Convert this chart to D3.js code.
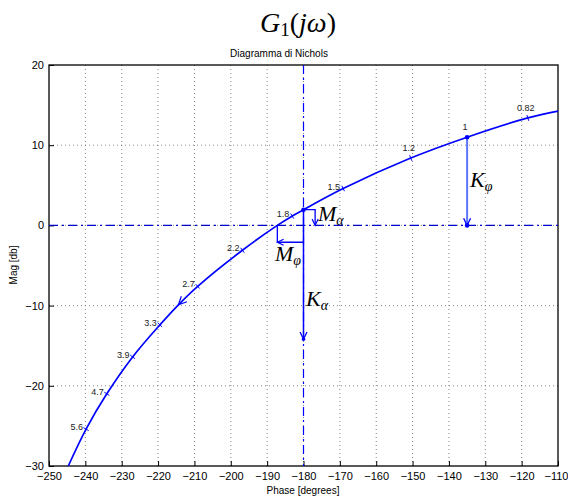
<!DOCTYPE html>
<html><head><meta charset="utf-8">
<script src="https://cdn.jsdelivr.net/npm/d3@7"></script>
<style>body{margin:0;background:#fff}</style>
</head><body>
<svg id="c" width="568" height="499"></svg>
<script>
// ---- data ----
const curvePhase = [-244.7, -239.8, -234.1, -227.0, -219.5, -214.4, -209.1, -196.8, -187.2, -183.1, -180.0, -169.1, -150.5, -135.0, -118.3, -110.0];
const curveMag   = [-30.0, -25.4, -21.0, -16.4, -12.4, -9.9, -7.6, -3.1, 0.0, 1.16, 1.96, 4.6, 8.4, 11.0, 13.4, 14.25];
const freqLabels = ["5.6", "4.7", "3.9", "3.3", "2.7", "2.2", "1.8", "1.5", "1.2", "1", "0.82"];
const freqPhase  = [-239.8, -234.1, -227.0, -219.5, -209.1, -196.8, -183.1, -169.1, -150.5, -135.0, -118.3];
const freqMag    = [-25.4, -21.0, -16.4, -12.4, -7.6, -3.1, 1.16, 4.6, 8.4, 11.0, 13.4];
const xTicks = [-250, -240, -230, -220, -210, -200, -190, -180, -170, -160, -150, -140, -130, -120, -110];
const yTicks = [-30, -20, -10, 0, 10, 20];
// annotation values
const critPhase = -180, critMag = 1.96;     // curve point at -180 deg
const kAlphaEnd = -14.2;                    // K_alpha arrow tip (dB)
const mAlphaPhase = -176.8;                 // M_alpha bracket phase
const crossPhase = -187.2;                  // 0 dB crossing phase
const mPhiMag = -2.1;                       // M_phi bracket level
const kPhiPhase = -135.0, kPhiMag = 11.0;   // K_phi start
const dirArrowPhase = -214.4, dirArrowMag = -9.9;

const svg = d3.select("#c");
const x = d3.scaleLinear().domain([-250, -110]).range([49, 558]);
const y = d3.scaleLinear().domain([-30, 20]).range([466, 65]);
const blue = "#0000ff";
const fmt = d => d < 0 ? "\u2212" + Math.abs(d) : String(d);

// title
const t = svg.append("text").attr("x", 298).attr("y", 32).attr("text-anchor", "middle")
  .attr("font-family", "Liberation Serif, DejaVu Serif, serif").attr("font-size", 28);
t.append("tspan").attr("font-style", "italic").text("G");
t.append("tspan").attr("font-size", 19).attr("dy", 4).text("1");
t.append("tspan").attr("dy", -4).text("(");
t.append("tspan").attr("font-style", "italic").text("j\u03c9");
t.append("tspan").text(")");

svg.append("text").attr("x", 279).attr("y", 57).attr("text-anchor", "middle")
  .attr("font-family", "Liberation Sans, Arial, sans-serif").attr("font-size", 10).text("Diagramma di Nichols");

// grid
const grid = svg.append("g").attr("stroke", "#666").attr("stroke-width", 0.8).attr("stroke-dasharray", "1,3");
xTicks.slice(1, -1).forEach(v => grid.append("line").attr("x1", x(v)).attr("x2", x(v)).attr("y1", y(20)).attr("y2", y(-30)));
yTicks.slice(1, -1).forEach(v => grid.append("line").attr("x1", x(-250)).attr("x2", x(-110)).attr("y1", y(v)).attr("y2", y(v)));

// axes
const xAxis = d3.axisBottom(x).tickValues(xTicks).tickFormat(fmt).tickSizeInner(-5).tickSizeOuter(0).tickPadding(6);
const yAxis = d3.axisLeft(y).tickValues(yTicks).tickFormat(fmt).tickSizeInner(-5).tickSizeOuter(0).tickPadding(5);
const gx = svg.append("g").attr("transform", `translate(0,${y(-30)})`).call(xAxis);
const gy = svg.append("g").attr("transform", `translate(${x(-250)},0)`).call(yAxis);
[gx, gy].forEach(g => {
  g.selectAll("text").attr("font-family", "Liberation Sans, Arial, sans-serif").attr("font-size", 11).attr("fill", "#000");
  g.select(".domain").remove();
  g.selectAll("line").attr("stroke", "#000");
});
gx.selectAll(".tick text").filter(d => d === -110).attr("text-anchor", "end").attr("dx", 10);
svg.append("rect").attr("x", x(-250)).attr("y", y(20)).attr("width", x(-110) - x(-250)).attr("height", y(-30) - y(20))
  .attr("fill", "none").attr("stroke", "#000").attr("stroke-width", 1.3);
svg.append("text").attr("x", 303).attr("y", 494).attr("text-anchor", "middle")
  .attr("font-family", "Liberation Sans, Arial, sans-serif").attr("font-size", 10).text("Phase [degrees]");
svg.append("text").attr("transform", "translate(17,265) rotate(-90)").attr("text-anchor", "middle")
  .attr("font-family", "Liberation Sans, Arial, sans-serif").attr("font-size", 10).text("Mag [db]");

const plot = svg.append("g");
// dash-dot reference lines
plot.append("line").attr("x1", x(-250)).attr("x2", x(-110)).attr("y1", y(0)).attr("y2", y(0))
  .attr("stroke", "#0000cc").attr("stroke-width", 1.2).attr("stroke-dasharray", "9,4,2,4");
plot.append("line").attr("x1", x(-180)).attr("x2", x(-180)).attr("y1", y(20)).attr("y2", y(-30))
  .attr("stroke", "#0000ff").attr("stroke-width", 1.2).attr("stroke-dasharray", "9,4,2,4");

// curve
const pts = curvePhase.map((p, i) => [x(p), y(curveMag[i])]);
plot.append("path").attr("d", d3.line().curve(d3.curveCatmullRom.alpha(0.5))(pts))
  .attr("fill", "none").attr("stroke", blue).attr("stroke-width", 1.7);

// frequency markers and labels
const lab = plot.append("g").attr("font-family", "Liberation Sans, Arial, sans-serif").attr("font-size", 9).attr("fill", "#222");
freqLabels.forEach((l, i) => {
  const px = x(freqPhase[i]), py = y(freqMag[i]);
  const j = Math.min(i + 1, freqLabels.length - 1), k = Math.max(i - 1, 0);
  let dx = x(freqPhase[j]) - x(freqPhase[k]), dy = y(freqMag[j]) - y(freqMag[k]);
  const n = Math.hypot(dx, dy); dx /= n; dy /= n;
  if (l !== "1") {
    plot.append("line").attr("x1", px - dy * 3).attr("y1", py + dx * 3).attr("x2", px + dy * 3).attr("y2", py - dx * 3)
      .attr("stroke", blue).attr("stroke-width", 1);
  }
  if (freqPhase[i] > -155) {
    lab.append("text").attr("x", px - 2).attr("y", py - 7).attr("text-anchor", "middle").text(l);
  } else {
    lab.append("text").attr("x", px - 3).attr("y", py + 1).attr("text-anchor", "end").text(l);
  }
});

// open arrowhead helper
function arrowHead(g, tx, ty, ux, uy, len, color, w) {
  const n = Math.hypot(ux, uy); ux /= n; uy /= n;
  const a = Math.PI / 7;
  const make = s => {
    const c = Math.cos(s * a), sn = Math.sin(s * a);
    const bx = -(ux * c - uy * sn), by = -(ux * sn + uy * c);
    return [tx + bx * len, ty + by * len];
  };
  const p1 = make(1), p2 = make(-1);
  g.append("path").attr("d", `M${p1[0]},${p1[1]}L${tx},${ty}L${p2[0]},${p2[1]}`)
    .attr("fill", "none").attr("stroke", color).attr("stroke-width", w);
}

// direction arrow on curve
{
  const tx = x(dirArrowPhase), ty = y(dirArrowMag);
  const ux = x(-219.5) - x(-209.1), uy = y(-12.4) - y(-7.6);
  arrowHead(plot, tx, ty, ux, uy, 9, blue, 1.2);
}

const ann = plot.append("g");
// K_alpha
ann.append("line").attr("x1", x(critPhase)).attr("x2", x(critPhase)).attr("y1", y(critMag)).attr("y2", y(kAlphaEnd))
  .attr("stroke", blue).attr("stroke-width", 1.5);
arrowHead(ann, x(critPhase), y(kAlphaEnd), 0, 1, 8, blue, 1.3);
ann.append("circle").attr("cx", x(critPhase)).attr("cy", y(kAlphaEnd)).attr("r", 1.8).attr("fill", blue);
ann.append("circle").attr("cx", x(critPhase)).attr("cy", y(critMag)).attr("r", 2.3).attr("fill", blue);
// M_alpha bracket
ann.append("path").attr("d", `M${x(critPhase)},${y(critMag)}H${x(mAlphaPhase)}V${y(0)}`)
  .attr("fill", "none").attr("stroke", blue).attr("stroke-width", 1.3);
arrowHead(ann, x(mAlphaPhase), y(0), 0, 1, 7, blue, 1.2);
// M_phi bracket
ann.append("path").attr("d", `M${x(critPhase)},${y(mPhiMag)}H${x(crossPhase)}M${x(crossPhase)},${y(mPhiMag)}V${y(0)}`)
  .attr("fill", "none").attr("stroke", blue).attr("stroke-width", 1.3);
arrowHead(ann, x(crossPhase), y(mPhiMag), -1, 0, 7, blue, 1.2);
// K_phi
ann.append("line").attr("x1", x(kPhiPhase)).attr("x2", x(kPhiPhase)).attr("y1", y(kPhiMag)).attr("y2", y(0))
  .attr("stroke", "#5b75ff").attr("stroke-width", 2);
arrowHead(ann, x(kPhiPhase), y(0), 0, 1, 8, blue, 1.3);
ann.append("circle").attr("cx", x(kPhiPhase)).attr("cy", y(0)).attr("r", 2.3).attr("fill", blue);
ann.append("circle").attr("cx", x(kPhiPhase)).attr("cy", y(kPhiMag)).attr("r", 2.3).attr("fill", blue);

// math labels
function mathLabel(px, py, main, sub) {
  const tt = svg.append("text").attr("x", px).attr("y", py)
    .attr("font-family", "Liberation Serif, DejaVu Serif, serif").attr("font-size", 22).attr("font-style", "italic").attr("fill", "#000");
  tt.append("tspan").text(main);
  tt.append("tspan").attr("font-size", 14).attr("dy", 4).text(sub);
}
mathLabel(306, 306, "K", "\u03b1");
mathLabel(318, 221, "M", "\u03b1");
mathLabel(275, 261, "M", "\u03c6");
mathLabel(470, 187, "K", "\u03c6");
</script>
</body></html>
